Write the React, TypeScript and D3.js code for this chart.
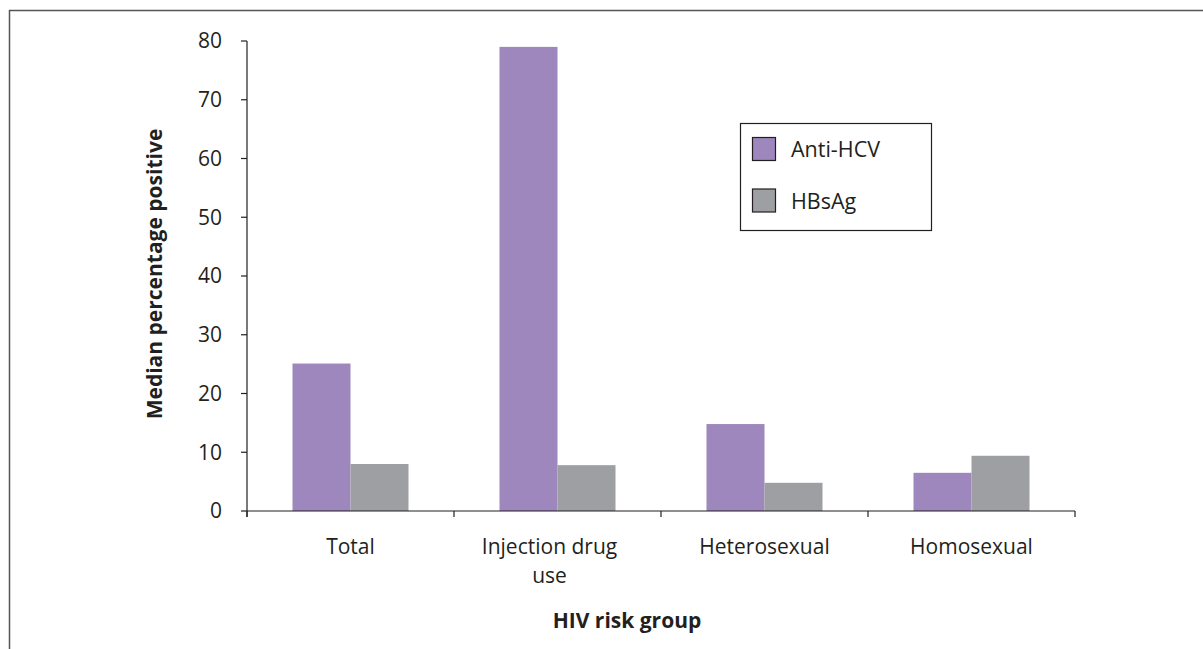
import React from "react";
import * as d3 from "d3";

const categories = ["Total", "Injection drug use", "Heterosexual", "Homosexual"];
const categoryLines = [["Total"], ["Injection drug", "use"], ["Heterosexual"], ["Homosexual"]];
const seriesNames = ["Anti-HCV", "HBsAg"];
const antiHCV = [25.1, 79.0, 14.8, 6.5];
const hbsAg = [8.0, 7.8, 4.8, 9.4];
const yTicks = [0, 10, 20, 30, 40, 50, 60, 70, 80];
const colors = ["#9D87BC", "#9E9FA3"];

export default function App() {
  const W = 1203, H = 649;
  const x0 = 247, x1 = 1075, yTop = 41, yBot = 511;
  const x = d3.scaleBand<string>().domain(categories).range([x0, x1]).paddingInner(0).paddingOuter(0);
  const y = d3.scaleLinear().domain([0, 80]).range([yBot, yTop]);
  const barW = 58;
  const font = "'Open Sans', sans-serif";
  const ink = "#231F20";
  const series = [antiHCV, hbsAg];
  const boundaries = [...categories.map((c) => x(c)!), x1];
  const fs = 21;

  return (
    <svg width={W} height={H} style={{ position: "absolute", left: 0, top: 0 }} fontFamily={font}>
      <rect x={0} y={0} width={W} height={H} fill="#fff" />
      <line x1={9} y1={10.5} x2={W} y2={10.5} stroke="#555" strokeWidth={1.5} />
      <line x1={9.5} y1={10} x2={9.5} y2={H} stroke="#555" strokeWidth={1.5} />

      {categories.map((c, i) => {
        const cx = x(c)! + x.bandwidth() / 2;
        return series.map((s, k) => (
          <rect key={c + k} x={cx - barW + k * barW} y={y(s[i])} width={barW} height={yBot - y(s[i])} fill={colors[k]} />
        ));
      })}

      {/* y axis */}
      <line x1={x0} y1={yTop} x2={x0} y2={yBot + 6} stroke={ink} strokeWidth={1.2} />
      {yTicks.map((t) => (
        <g key={t}>
          <line x1={x0 - 6} x2={x0} y1={y(t)} y2={y(t)} stroke={ink} strokeWidth={1.2} />
          <text x={x0 - 25} y={y(t)} dy="0.35em" textAnchor="end" fontSize={fs} fill={ink}>{t}</text>
        </g>
      ))}

      {/* x axis */}
      <line x1={x0} y1={yBot} x2={x1} y2={yBot} stroke={ink} strokeWidth={1.2} />
      {boundaries.map((b, i) => (
        <line key={i} x1={b} x2={b} y1={yBot} y2={yBot + 6} stroke={ink} strokeWidth={1.2} />
      ))}
      {categories.map((c, i) => {
        const cx = x(c)! + x.bandwidth() / 2 - (i === 1 ? 8 : 0);
        return (
          <text key={c} x={cx} y={554} textAnchor="middle" fontSize={fs} fill={ink}>
            {categoryLines[i].map((l, j) => (
              <tspan key={j} x={cx} dy={j === 0 ? 0 : 29}>{l}</tspan>
            ))}
          </text>
        );
      })}

      <text x={627} y={628} textAnchor="middle" fontSize={fs} fontWeight="bold" fill={ink}>HIV risk group</text>
      <text transform={`translate(162,274) rotate(-90)`} textAnchor="middle" fontSize={fs} fontWeight="bold" fill={ink}>Median percentage positive</text>

      {/* legend */}
      <rect x={740.5} y={123.5} width={191} height={107} fill="#fff" stroke={ink} strokeWidth={1.2} />
      {seriesNames.map((n, k) => (
        <g key={n}>
          <rect x={752.5} y={137.5 + k * 51.5} width={23} height={23} fill={colors[k]} stroke={ink} strokeWidth={1.2} />
          <text x={791} y={157 + k * 51.5} fontSize={21.5} fill={ink}>{n}</text>
        </g>
      ))}
    </svg>
  );
}
